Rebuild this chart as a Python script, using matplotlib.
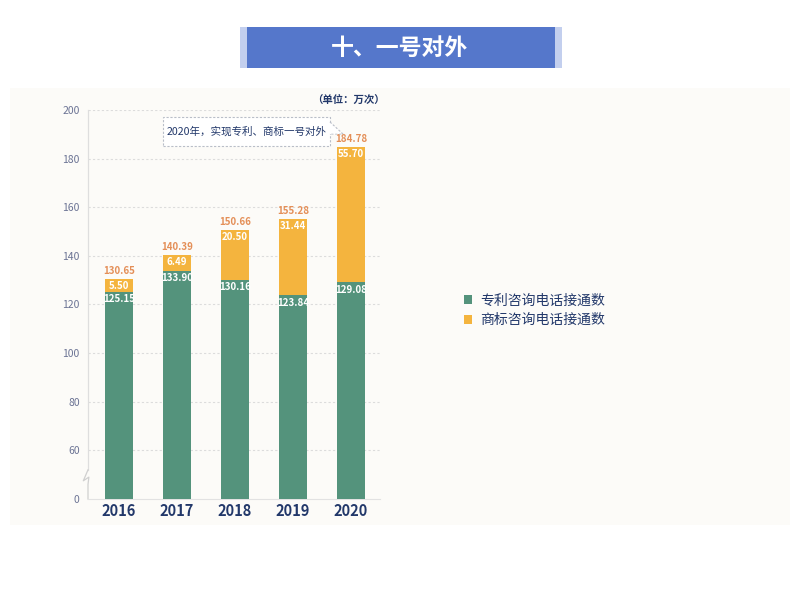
import matplotlib
matplotlib.use("Agg")
import matplotlib.pyplot as plt
from matplotlib.patches import Rectangle, Patch, Polygon
from matplotlib.lines import Line2D

plt.rcParams['font.family'] = ['Noto Sans CJK SC', 'DejaVu Sans']

years = ['2016', '2017', '2018', '2019', '2020']
patent = [125.15, 133.90, 130.16, 123.84, 129.08]
trademark = [5.50, 6.49, 20.50, 31.44, 55.70]
totals = [130.65, 140.39, 150.66, 155.28, 184.78]
tick_vals = [40, 60, 80, 100, 120, 140, 160, 180, 200]
tick_labels = ['0', '60', '80', '100', '120', '140', '160', '180', '200']
series_names = ['专利咨询电话接通数', '商标咨询电话接通数']
title = '十、一号对外'
note = '2020年，实现专利、商标一号对外'
unit = '（单位：万次）'

GREEN = '#54937c'
ORANGE = '#f4b43e'
NAVY = '#22386a'
TICK = '#6b7394'
TOTAL = '#e48f58'

W, H = 800, 594
fig = plt.figure(figsize=(8, 5.94), dpi=100)
fig.patch.set_facecolor('white')

def px(x, y, w, h):
    return (x / W, 1 - (y + h) / H, w / W, h / H)

# panel background
x0, y0, w0, h0 = px(10, 88, 780, 437)
fig.patches.append(Rectangle((x0, y0), w0, h0, transform=fig.transFigure,
                             facecolor='#fcfbf8', edgecolor='none', zorder=0))
# banner
x0, y0, w0, h0 = px(240, 27, 322, 41)
fig.patches.append(Rectangle((x0, y0), w0, h0, transform=fig.transFigure,
                             facecolor='#c3cfee', edgecolor='none', zorder=1))
x0, y0, w0, h0 = px(247, 27, 308, 41)
fig.patches.append(Rectangle((x0, y0), w0, h0, transform=fig.transFigure,
                             facecolor='#5577cb', edgecolor='none', zorder=2))
fig.text(400 / W, 1 - 48 / H, title, color='white', fontsize=16.5, fontweight='bold',
         ha='center', va='center', zorder=3)

ax = fig.add_axes([88 / W, 1 - 499 / H, (380 - 88) / W, (499 - 110) / H])
ax.set_facecolor('none')
ax.set_zorder(2)

xs = list(range(len(years)))
bw = 0.48
ax.bar(xs, patent, width=bw, color=GREEN, zorder=3)
ax.bar(xs, trademark, width=bw, bottom=patent, color=ORANGE, zorder=3)

for i in xs:
    ax.text(i, patent[i] - 1.0, f'{patent[i]:.2f}', ha='center', va='top',
            color='white', fontsize=7, fontweight='bold', zorder=4)
    ax.text(i, totals[i] - 1.0, f'{trademark[i]:.2f}', ha='center', va='top',
            color='white', fontsize=7, fontweight='bold', zorder=4)
    ax.text(i, totals[i] + 1.2, f'{totals[i]:.2f}', ha='center', va='bottom',
            color=TOTAL, fontsize=7, fontweight='bold', zorder=4)

ax.set_ylim(40, 200)
ax.set_xlim(-0.535, 4.5)
ax.set_yticks(tick_vals)
ax.set_yticklabels(tick_labels)
ax.set_xticks(xs)
ax.set_xticklabels(years)
ax.tick_params(axis='y', length=0, pad=6, labelsize=7.5, labelcolor=TICK)
ax.tick_params(axis='x', length=0, pad=3, labelsize=10.5, labelcolor=NAVY)
for lab in ax.get_xticklabels():
    lab.set_fontweight('bold')
for v in tick_vals[1:]:
    ax.axhline(v, color='#dcdcdc', lw=0.8, ls=(0, (2, 2)), zorder=1)
for s in ['top', 'right', 'left']:
    ax.spines[s].set_visible(False)
ax.spines['bottom'].set_color('#e2e2e2')
ax.spines['bottom'].set_linewidth(0.8)

# y axis line with break symbol
trans = ax.get_yaxis_transform()
ax.add_line(Line2D([0, 0], [200, 52], transform=trans, color='#dedede', lw=0.9, clip_on=False))
ax.add_line(Line2D([0, -0.016, 0.003, 0, 0], [52, 47.5, 49, 46, 40], transform=trans,
                   color='#d0d0d0', lw=0.9, clip_on=False))

# unit label
fig.text(385 / W, 1 - 101 / H, unit, ha='right', va='center',
         color=NAVY, fontsize=7.5, fontweight='bold')

# note box
bx0, by0 = 163, 117
bx1, by1 = 330, 146
x0, y0, w0, h0 = px(bx0, by0, bx1 - bx0, by1 - by0)
fig.patches.append(Rectangle((x0, y0), w0, h0, transform=fig.transFigure,
                             facecolor='white', edgecolor='#b9bec8', lw=0.8,
                             ls=(0, (2, 1.5)), zorder=4))
tri = [(bx1, 122), (343, 134), (bx1, 134)]
fig.patches.append(Polygon([(x / W, 1 - y / H) for x, y in tri], closed=False,
                           transform=fig.transFigure, facecolor='white',
                           edgecolor='#b9bec8', lw=0.8, ls=(0, (2, 1.5)), zorder=5))
fig.patches.append(Polygon([(x / W, 1 - y / H) for x, y in [(bx1 - 1, 122.8), (341, 133.5), (bx1 - 1, 133.5)]],
                           closed=True, transform=fig.transFigure, facecolor='white',
                           edgecolor='none', zorder=5))
fig.text((bx0 + bx1) / 2 / W, 1 - (by0 + by1) / 2 / H, note, ha='center', va='center',
         color=NAVY, fontsize=7.6, zorder=6)

# legend
handles = [Patch(facecolor=GREEN, edgecolor='none'), Patch(facecolor=ORANGE, edgecolor='none')]
fig.legend(handles, series_names, loc='upper left', bbox_to_anchor=(451 / W, 1 - 281 / H),
           frameon=False, fontsize=10, labelcolor=NAVY, handlelength=0.6, handleheight=0.6,
           handletextpad=0.6, labelspacing=0.4)

fig.savefig('out.png', dpi=100)
